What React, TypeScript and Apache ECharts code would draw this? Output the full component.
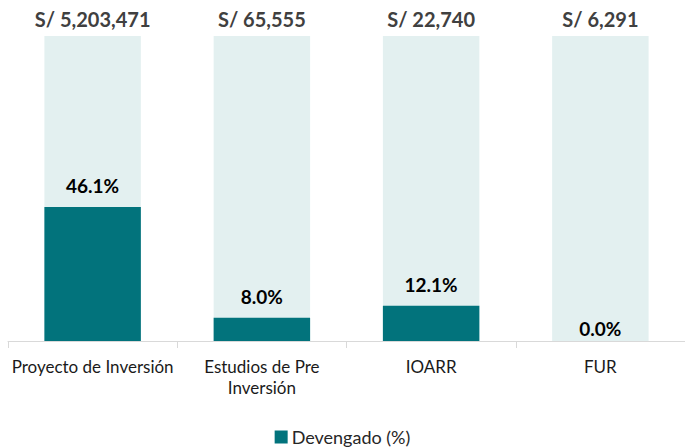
import React, { useEffect, useRef } from "react";
import * as echarts from "echarts";

const categories = ["Proyecto de Inversión", "Estudios de Pre\nInversión", "IOARR", "FUR"];
const amounts = ["S/ 5,203,471", "S/ 65,555", "S/ 22,740", "S/ 6,291"];
const devengado = [46.1, 8.0, 12.1, 0.0];
const backgroundScale = [105, 105, 105, 105];

export default function App() {
  const ref = useRef<HTMLDivElement>(null);
  useEffect(() => {
    if (!ref.current) return;
    const chart = echarts.init(ref.current, null, { renderer: "svg" });
    const font = "Lato, 'Open Sans', sans-serif";
    chart.setOption({
      animation: false,
      textStyle: { fontFamily: font },
      grid: { left: 8, right: 0, top: 36, bottom: 107, containLabel: false },
      legend: {
        data: ["Devengado (%)"],
        top: 428,
        left: "center",
        padding: 0,
        itemWidth: 13,
        itemHeight: 13,
        itemGap: 4,
        icon: "rect",
        textStyle: { fontSize: 18, lineHeight: 18, color: "#262626", fontFamily: font, padding: [0, 0, 0, -1] },
      },
      xAxis: {
        type: "category",
        data: categories,
        axisLine: { lineStyle: { color: "#D9D9D9", width: 1 } },
        axisTick: { show: true, length: 7, lineStyle: { color: "#D9D9D9" } },
        axisLabel: {
          interval: 0,
          fontSize: 17,
          color: "#1a1a1a",
          margin: 15,
          lineHeight: 21,
          fontFamily: font,
        },
      },
      yAxis: { type: "value", min: 0, max: 105, show: false, splitLine: { show: false } },
      series: [
        {
          name: "Total",
          type: "bar",
          data: backgroundScale,
          barWidth: "57%",
          itemStyle: { color: "#E3F0F0" },
          silent: true,
          z: 1,
          label: {
            show: true,
            position: "top",
            distance: 7,
            formatter: (p: any) => amounts[p.dataIndex],
            fontSize: 20,
            fontWeight: "bold",
            color: "#404040",
            fontFamily: font,
          },
        },
        {
          name: "Devengado (%)",
          type: "bar",
          data: devengado.map((v) => (v === 0 ? { value: v, label: { distance: 3 } } : v)),
          barWidth: "57%",
          barGap: "-100%",
          itemStyle: { color: "#02737C" },
          z: 2,
          label: {
            show: true,
            position: "top",
            distance: 12,
            formatter: (p: any) => Number(p.value).toFixed(1) + "%",
            fontSize: 19,
            fontWeight: "bold",
            color: "#000000",
            fontFamily: font,
          },
        },
      ],
    });
    return () => chart.dispose();
  }, []);
  return (
    <div
      ref={ref}
      style={{ position: "fixed", left: 0, top: 0, width: 685, height: 448, background: "#fff" }}
    />
  );
}
